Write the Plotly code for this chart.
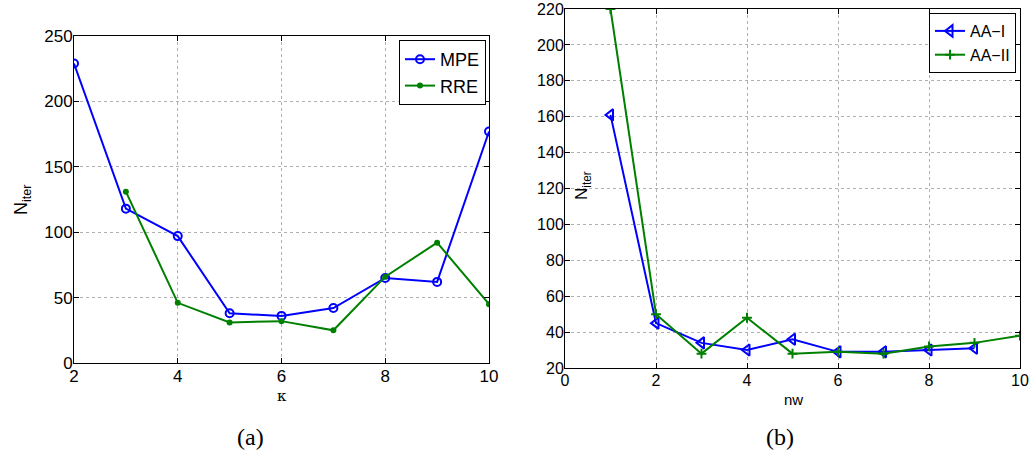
import plotly.graph_objects as go

# ---- data ----
kappa_mpe = [2, 3, 4, 5, 6, 7, 8, 9, 10]
mpe = [229, 118, 97, 38, 36, 42, 65, 62, 177]
kappa_rre = [3, 4, 5, 6, 7, 8, 9, 10]
rre = [131, 46, 31, 32, 25, 66, 92, 45]

nw_aa1 = [1, 2, 3, 4, 5, 6, 7, 8, 9]
aa1 = [161, 45, 34, 30, 36, 29, 29, 30, 31]
nw_aa2 = [1, 2, 3, 4, 5, 6, 7, 8, 9, 10]
aa2 = [220, 50, 28, 48, 28, 29, 28, 32, 34, 38]

W, H = 1033, 461
BLUE = "#0000FF"
GREEN = "#008000"
SANS = "Liberation Sans, Arial, sans-serif"

fig = go.Figure()

fig.add_trace(go.Scatter(x=kappa_mpe, y=mpe, name="MPE", mode="lines+markers",
                         line=dict(color=BLUE, width=2),
                         marker=dict(symbol="circle-open", size=8, color=BLUE, line=dict(width=2)),
                         xaxis="x", yaxis="y", legend="legend"))
fig.add_trace(go.Scatter(x=kappa_rre, y=rre, name="RRE", mode="lines+markers",
                         line=dict(color=GREEN, width=2),
                         marker=dict(symbol="circle", size=6, color=GREEN),
                         xaxis="x", yaxis="y", legend="legend"))
fig.add_trace(go.Scatter(x=nw_aa1, y=aa1, name="AA\u2212I", mode="lines+markers",
                         line=dict(color=BLUE, width=2),
                         marker=dict(symbol="triangle-left-open", size=10, color=BLUE, line=dict(width=2)),
                         xaxis="x2", yaxis="y2", legend="legend2"))
fig.add_trace(go.Scatter(x=nw_aa2, y=aa2, name="AA\u2212II", mode="lines+markers",
                         line=dict(color=GREEN, width=2),
                         marker=dict(symbol="cross-thin", size=7, color=GREEN, line=dict(width=2, color=GREEN)),
                         xaxis="x2", yaxis="y2", legend="legend2"))

# pixel geometry
L1, R1, T1, B1 = 74, 489, 36, 363
L2, R2, T2, B2 = 565, 1020, 9, 368

def xd(a, b):
    return [a / W, b / W]

def yd(t, b):
    return [1 - b / H, 1 - t / H]

def ax(size, standoff):
    return dict(showline=True, linecolor="black", linewidth=1, mirror="ticks",
                ticks="inside", ticklen=5, tickcolor="black",
                tickfont=dict(family=SANS, size=size, color="black"),
                ticklabelstandoff=standoff,
                showgrid=True, gridcolor="#b0b0b0", griddash="dot", gridwidth=1,
                zeroline=False, automargin=False)

fig.update_layout(
    width=W, height=H,
    margin=dict(l=0, r=0, t=0, b=0, autoexpand=False),
    paper_bgcolor="white", plot_bgcolor="white",
    xaxis=dict(domain=xd(L1, R1), range=[2, 10], dtick=2, anchor="y", **ax(17, -2)),
    yaxis=dict(domain=yd(T1, B1), range=[0, 250], dtick=50, anchor="x", **ax(17, -3)),
    xaxis2=dict(domain=xd(L2, R2), range=[0, 10], dtick=2, anchor="y2", **ax(16, -2)),
    yaxis2=dict(domain=yd(T2, B2), range=[20, 220], dtick=20, anchor="x2", **ax(16, -3)),
    legend=dict(x=486 / W, y=1 - 40 / H, xanchor="right", yanchor="top",
                bgcolor="white", bordercolor="black", borderwidth=1,
                font=dict(family=SANS, size=18, color="black"),
                tracegroupgap=0, itemwidth=30),
    legend2=dict(x=1016 / W, y=1 - 13 / H, xanchor="right", yanchor="top",
                 bgcolor="white", bordercolor="black", borderwidth=1,
                 font=dict(family=SANS, size=16, color="black"),
                 tracegroupgap=0, itemwidth=30),
    showlegend=True,
)

def note(text, px, py, font, angle=0):
    fig.add_annotation(text=text, x=px / W, y=1 - py / H, xref="paper", yref="paper",
                       xanchor="center", yanchor="middle", textangle=angle,
                       showarrow=False, font=font)

serif = dict(family="Liberation Serif, DejaVu Serif, serif", size=24, color="black")
note("N<sub>iter</sub>", 22, 200, dict(family=SANS, size=18, color="black"), -90)
note("N<sub>iter</sub>", 583, 186, dict(family=SANS, size=17, color="black"), -90)
note("\u03ba", 282, 396, dict(family="DejaVu Serif, serif", size=15, color="black"))
note("nw", 793, 399, dict(family=SANS, size=15, color="black"))
note("(a)", 250, 437, serif)
note("(b)", 780, 437, serif)

fig.write_html("out.html",
               config={"displayModeBar": False},
               post_script="document.body.style.margin='0';document.body.style.overflow='hidden';")
